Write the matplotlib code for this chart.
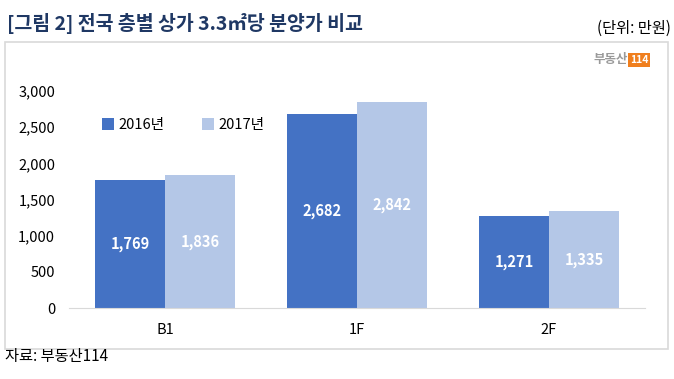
import matplotlib
matplotlib.use("Agg")
import matplotlib.pyplot as plt
from matplotlib.patches import Rectangle
import numpy as np

plt.rcParams['font.family'] = ['Noto Sans CJK KR', 'DejaVu Sans']

categories = ["B1", "1F", "2F"]
series_names = ["2016년", "2017년"]
values_2016 = [1769, 2682, 1271]
values_2017 = [1836, 2842, 1335]
yticks = [0, 500, 1000, 1500, 2000, 2500, 3000]

W, H = 674, 379
fig = plt.figure(figsize=(W / 100, H / 100), dpi=100)

# outer chart frame
fig.add_artist(Rectangle((5 / W, 1 - 349 / H), 663 / W, 307 / H, transform=fig.transFigure,
                         fill=False, edgecolor="#D9D9D9", linewidth=1.2))

ax = fig.add_axes([69 / W, 71 / H, 576 / W, 217 / H])
x = np.arange(len(categories))
bw = 0.365
c16, c17 = "#4472C4", "#B4C7E7"
b1 = ax.bar(x - bw / 2, values_2016, bw, color=c16, label=series_names[0])
b2 = ax.bar(x + bw / 2, values_2017, bw, color=c17, label=series_names[1])

for bars, vals in ((b1, values_2016), (b2, values_2017)):
    for r, v in zip(bars, vals):
        ax.text(r.get_x() + r.get_width() / 2, v / 2, f"{v:,}", ha="center", va="center",
                color="white", fontsize=10.5, fontweight="bold")

ax.set_xlim(-0.5, 2.5)
ax.set_ylim(0, 3000)
ax.set_yticks(yticks)
ax.set_yticklabels([f"{t:,}" for t in yticks])
ax.set_xticks(x)
ax.set_xticklabels(categories)
for s in ("top", "right", "left"):
    ax.spines[s].set_visible(False)
ax.spines["bottom"].set_color("#D9D9D9")
ax.tick_params(axis="both", length=0, labelsize=10.5, colors="#000000")
ax.tick_params(axis="y", pad=10)
ax.tick_params(axis="x", pad=11)

leg = ax.legend(loc="center left", bbox_to_anchor=(0.035, 0.843), ncol=2, frameon=False,
                fontsize=10.5, handlelength=0.8, handleheight=0.8, handletextpad=0.3,
                columnspacing=2.6)

# title and unit
fig.text(7 / W, 1 - 24 / H, "[그림 2] 전국 층별 상가 3.3㎡당 분양가 비교", ha="left", va="center",
         fontsize=14, fontweight="bold", color="#1F3864")
fig.text(671 / W, 1 - 28 / H, "(단위: 만원)", ha="right", va="center", fontsize=11, color="#000000")

# logo
fig.text(628 / W, 1 - 60 / H, "부동산", ha="right", va="center", fontsize=9, fontweight="bold",
         color="#9A9A9A")
fig.text(639 / W, 1 - 60 / H, "114", ha="center", va="center", fontsize=7.5, fontweight="bold",
         color="white", bbox=dict(boxstyle="square,pad=0.15", facecolor="#F07F1E", edgecolor="none"))

# source
fig.text(5 / W, 1 - 357 / H, "자료: 부동산114", ha="left", va="center", fontsize=11, color="#000000")

fig.savefig("out.png", dpi=100)
